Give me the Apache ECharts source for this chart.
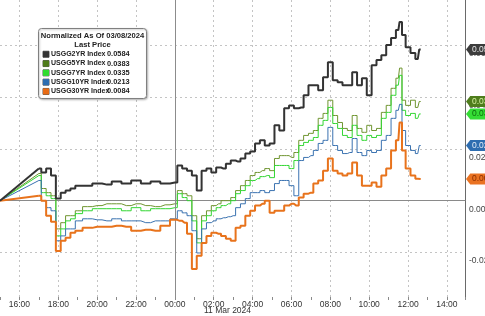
<!DOCTYPE html>
<html>
<head>
<meta charset="utf-8">
<script src="https://cdn.jsdelivr.net/npm/echarts@6/dist/echarts.min.js"></script>
<style>html,body{margin:0;padding:0;background:#fff;}#c{width:485px;height:316px;}</style>
</head>
<body>
<div id="c"></div>
<script>
// time in hours (16 = 16:00 Fri view, 24 = 00:00 11 Mar 2024, 38 = 14:00)
const times = [15,17,17.25,17.5,17.75,18,18.25,18.5,18.75,19,19.5,20,20.5,21,21.5,22,22.5,23,23.5,24,
  24.25,24.5,24.75,25,25.25,25.5,25.75,26,26.25,26.5,26.75,27,27.25,27.5,27.75,28,28.25,28.5,28.75,29,
  29.25,29.5,29.75,30,30.25,30.5,30.75,31,31.25,31.5,31.75,32,32.25,32.5,32.75,33,33.25,33.5,33.75,34,
  34.25,34.5,34.75,35,35.25,35.5,35.625,35.75,36,36.25,36.5,36.65];

const usgg2yr = [0,0.0124,0.0109,0.0124,0.0097,0.0008,0.0031,0.0039,0.0047,0.0058,0.0058,0.0066,0.0062,0.0074,0.0066,0.0078,0.0066,0.0074,0.0066,0.0070,
  0.0136,0.0124,0.0116,0.0097,0.0039,0.0116,0.0124,0.0109,0.0128,0.0124,0.0143,0.0155,0.0151,0.0163,0.0182,0.0190,0.0221,0.0233,0.0213,0.0221,
  0.0291,0.0271,0.0357,0.0368,0.0357,0.0360,0.0407,0.0446,0.0446,0.0426,0.0477,0.0535,0.0465,0.0457,0.0446,0.0446,0.0496,0.0446,0.0473,0.0407,
  0.0523,0.0543,0.0562,0.0601,0.0628,0.0659,0.0690,0.0640,0.0593,0.0570,0.0547,0.0584];
const usgg5yr = [0,0.0105,0.0047,0.0031,0.0019,-0.0109,-0.0085,-0.0058,-0.0058,-0.0039,-0.0023,-0.0019,-0.0012,-0.0012,-0.0019,-0.0012,-0.0019,-0.0023,-0.0016,-0.0012,
  0.0039,0.0027,0.0019,-0.0058,-0.0147,-0.0058,-0.0039,-0.0019,-0.0012,0,0,0.0012,0.0039,0.0058,0.0078,0.0097,0.0109,0.0116,0.0124,0.0116,
  0.0163,0.0174,0.0174,0.0167,0.0186,0.0233,0.0252,0.0260,0.0271,0.0318,0.0337,0.0388,0.0329,0.0302,0.0279,0.0271,0.0329,0.0279,0.0264,0.0291,
  0.0271,0.0279,0.0341,0.0368,0.0434,0.0473,0.0512,0.0388,0.0368,0.0388,0.0360,0.0383];
const usgg7yr = [0,0.0097,0.0031,0.0019,0.0008,-0.0136,-0.0109,-0.0078,-0.0070,-0.0050,-0.0039,-0.0031,-0.0031,-0.0031,-0.0039,-0.0027,-0.0039,-0.0031,-0.0031,-0.0027,
  0.0027,0.0012,0,-0.0078,-0.0163,-0.0078,-0.0058,-0.0039,-0.0027,-0.0019,-0.0012,0,0.0027,0.0039,0.0058,0.0078,0.0085,0.0093,0.0097,0.0089,
  0.0136,0.0136,0.0136,0.0124,0.0155,0.0213,0.0225,0.0233,0.0244,0.0291,0.0310,0.0360,0.0298,0.0279,0.0252,0.0244,0.0291,0.0252,0.0233,0.0252,
  0.0244,0.0252,0.0318,0.0341,0.0407,0.0446,0.0484,0.0349,0.0329,0.0337,0.0318,0.0335];
const usgg10yr = [0,0.0078,0,-0.0027,-0.0039,-0.0155,-0.0136,-0.0109,-0.0109,-0.0078,-0.0070,-0.0074,-0.0078,-0.0070,-0.0078,-0.0078,-0.0085,-0.0078,-0.0078,-0.0070,
  -0.0039,-0.0047,-0.0058,-0.0116,-0.0202,-0.0109,-0.0085,-0.0078,-0.0070,-0.0066,-0.0062,-0.0058,-0.0027,-0.0012,0.0008,0.0031,0.0031,0.0039,0.0031,0.0039,
  0.0066,0.0078,0.0078,0.0058,0.0019,0.0155,0.0167,0.0174,0.0194,0.0221,0.0233,0.0283,0.0213,0.0194,0.0182,0.0186,0.0240,0.0186,0.0174,0.0194,
  0.0186,0.0194,0.0233,0.0252,0.0318,0.0349,0.0372,0.0271,0.0213,0.0194,0.0182,0.0213];
const usgg30yr = [0,0.0019,0,-0.0058,-0.0081,-0.0194,-0.0155,-0.0143,-0.0124,-0.0116,-0.0105,-0.0101,-0.0101,-0.0097,-0.0101,-0.0116,-0.0112,-0.0116,-0.0097,-0.0074,
  -0.0078,-0.0085,-0.0128,-0.0264,-0.0213,-0.0163,-0.0136,-0.0124,-0.0128,-0.0136,-0.0147,-0.0155,-0.0105,-0.0097,-0.0058,-0.0039,-0.0019,-0.0012,0,-0.0047,
  -0.0039,-0.0039,-0.0019,-0.0012,-0.0019,0.0012,0.0027,0.0031,0.0066,0.0078,0.0116,0.0163,0.0116,0.0105,0.0097,0.0105,0.0147,0.0097,0.0058,0.0058,
  0.0070,0.0054,0.0097,0.0124,0.0194,0.0233,0.0302,0.0194,0.0124,0.0097,0.0085,0.0084];

const seriesNames = ['USGG2YR Index','USGG5YR Index','USGG7YR Index','USGG10YR Index','USGG30YR Index'];
const lastPrices = [0.0584,0.0383,0.0335,0.0213,0.0084];
const xTickHours = [16,18,20,22,24,26,28,30,32,34,36,38];
const yTickValues = [-0.02,0,0.02,0.04,0.06];
const legendTitle = 'Normalized As Of 03/08/2024';
const legendSub = 'Last Price';
const dateLabel = '11 Mar 2024';

const allValues = [usgg2yr,usgg5yr,usgg7yr,usgg10yr,usgg30yr];
const lineColors = ['#333333','#6f9530','#33d633','#3a72b0','#e8731c'];
const swatch = ['#333333','#4d7a1a','#2fdc2f','#2b6cb0','#e86b14'];
const boxColors = ['#3c3c3c','#4f7d1c','#35dd35','#2e6db0','#ea7322'];
const boxText = ['#e8e8e8','#d6f0a0','#0b6a0b','#e3ecf7','#8a2d00'];
const widths = [2,1,1,1,2];
const XMIN = 15, XMAX = 38.93;

function hh(v){ let h = Math.round(v) % 24; return (h<10?'0':'')+h+':00'; }

const drawOrder = [1,2,3,4,0];
const series = [];
drawOrder.forEach(function(i){
  const vals = allValues[i];
  series.push({
    type:'line', name: seriesNames[i]+' ramp', silent:true, symbol:'none', animation:false,
    data:[[times[0],vals[0]],[times[1],vals[1]]],
    lineStyle:{color:lineColors[i],width:widths[i]}, z:2
  });
  series.push({
    type:'line', name: seriesNames[i], symbol:'none', animation:false, step:'middle',
    data: times.slice(1).map(function(t,k){return [t, vals[k+1]];}),
    lineStyle:{color:lineColors[i],width:widths[i]},
    z: i===0?9:(i===4?8:3),
    markPoint:{
      symbol:'path://M0,5 L4,0 L30,0 L30,10 L4,10 Z',
      symbolSize:[32,11], symbolKeepAspect:false, symbolOffset:[17,0],
      itemStyle:{color:boxColors[i]},
      label:{show:true, color:boxText[i], fontSize:8.5, fontFamily:'Liberation Sans', offset:[3,0],
        formatter:function(p){return p.value.toFixed(4);}},
      data:[{coord:[XMAX, lastPrices[i]], value:lastPrices[i]}],
      animation:false, silent:true
    },
    markLine: i===0 ? {
      silent:true, symbol:'none', animation:false,
      lineStyle:{color:'#8c8c8c', type:'solid', width:1},
      label:{show:false},
      data:[{xAxis:24}]
    } : undefined
  });
});

const LH = 9.3;
const rich = {
  h:{width:99, align:'center', fontSize:7.6, lineHeight:LH, color:'#222', fontFamily:'Liberation Sans'},
  n:{width:56, padding:[0,0,0,2], fontSize:7, lineHeight:LH, color:'#222', fontFamily:'Liberation Sans'},
  v:{fontSize:7.4, lineHeight:LH, color:'#222', fontFamily:'Liberation Sans'}
};
swatch.forEach(function(c,i){ rich['s'+i] = {width:6, height:6, backgroundColor:c, borderColor:'#555', borderWidth:0.5, lineHeight:LH}; });
const legendText = ['{h|'+legendTitle+'}','{h|'+legendSub+'}']
  .concat(seriesNames.map(function(n,i){return '{s'+i+'| }{n|'+n+'}{v|'+lastPrices[i].toFixed(4)+'}';}))
  .join('\n');

const chart = echarts.init(document.getElementById('c'), null, {renderer:'canvas'});
chart.setOption({
  animation:false,
  backgroundColor:'#ffffff',
  title:{
    text:legendText, left:40, top:28, padding:[3,3,3,3],
    backgroundColor:'#ffffff', borderColor:'#808080', borderWidth:1, borderRadius:3,
    textStyle:{rich:rich, fontSize:8, lineHeight:LH},
    shadowColor:'rgba(0,0,0,0.25)', shadowBlur:2, shadowOffsetX:1, shadowOffsetY:1
  },
  grid:{left:0, right:20, top:0, bottom:19, containLabel:false, outerBoundsMode:'none'},
  xAxis:[{
    type:'value', min:XMIN, max:XMAX,
    name:dateLabel, nameLocation:'middle', nameGap:9, nameMoveOverlap:false,
    nameTextStyle:{fontSize:8.5, color:'#333', fontFamily:'Liberation Sans', padding:[0,10,0,0]},
    axisLine:{show:true, lineStyle:{color:'#8a8a8a', width:1}},
    axisTick:{show:false, customValues:xTickHours},
    axisLabel:{customValues:xTickHours, formatter:hh, fontSize:8.5, color:'#333', margin:3, fontFamily:'Liberation Sans'},
    splitLine:{show:true, lineStyle:{color:'#c4c4c4', type:[2,3], width:1}}
  },{
    type:'value', min:XMIN, max:XMAX, interval:1, position:'bottom',
    axisLine:{show:false}, axisLabel:{show:false}, splitLine:{show:false},
    axisTick:{show:true, length:3, lineStyle:{color:'#8a8a8a'}}
  }],
  yAxis:{
    type:'value', position:'right', min:-0.0372, max:0.0775,
    axisLine:{show:true, lineStyle:{color:'#6a6a6a', width:1}},
    axisTick:{show:false, customValues:yTickValues},
    axisLabel:{customValues:yTickValues, formatter:function(v){return v.toFixed(3);}, fontSize:8.5, color:'#444',
      margin:4, fontFamily:'Liberation Sans', verticalAlign:'top', padding:[4,0,0,0]},
    splitLine:{show:true, lineStyle:{color:'#c4c4c4', type:[2,3], width:1}}
  },
  series:series
});
</script>
</body>
</html>
